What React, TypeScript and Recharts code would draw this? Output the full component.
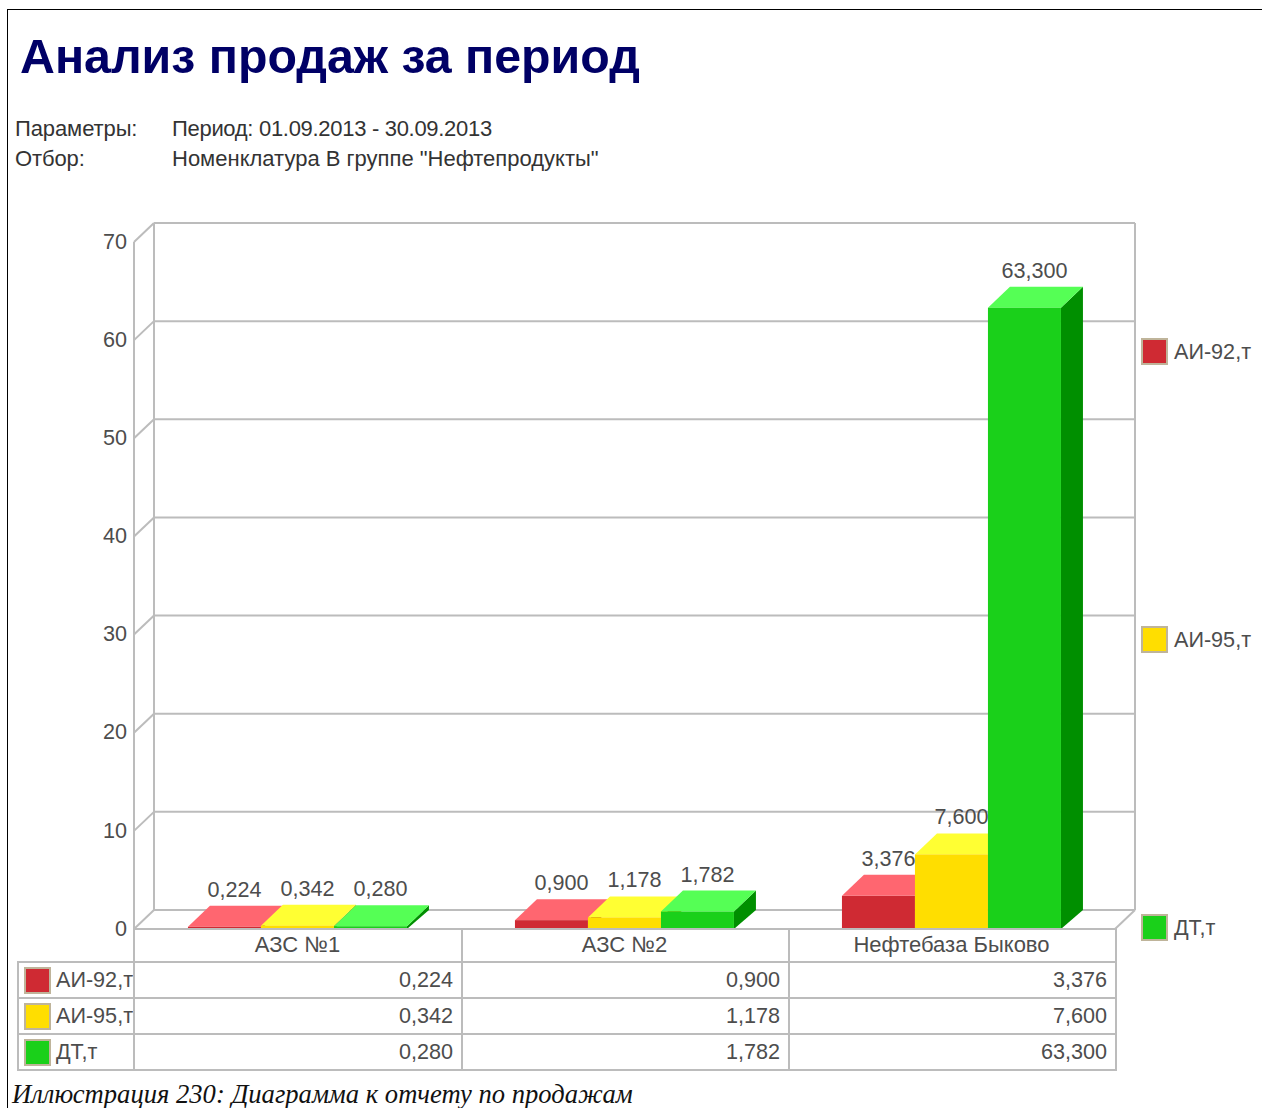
import React from 'react';
import { BarChart, Bar, XAxis, YAxis, CartesianGrid, Legend, LabelList } from 'recharts';

const categories = ['АЗС №1', 'АЗС №2', 'Нефтебаза Быково'];
const ai92 = [0.224, 0.9, 3.376];
const ai95 = [0.342, 1.178, 7.6];
const dt = [0.28, 1.782, 63.3];
const yTicks = [0, 10, 20, 30, 40, 50, 60, 70];

const seriesNames = ['АИ-92,т', 'АИ-95,т', 'ДТ,т'];
const seriesValues = [ai92, ai95, dt];
const fronts = ['#cf2a33', '#ffde00', '#1ad01a'];
const tops = ['#ff6670', '#ffff33', '#55ff55'];
const sides = ['#8f1a20', '#b09a00', '#008f00'];

const chartData = categories.map((name, i) => ({
  name,
  s0: ai92[i],
  s1: ai95[i],
  s2: dt[i],
}));

const FONT = '"Liberation Sans", Arial, sans-serif';
const TEXT = '#4d4d4d';
const LINE = '#bcbcbc';
const WALL_DX = 20;
const WALL_DY = 19;
const BAR_DX = 22;
const BAR_DY = 21;

const fmt = (v: number) => v.toFixed(3).replace('.', ',');

// fake 3d box, front face comes from the bar scale
const make3dBar = (s: number) => (props: any) => {
  const { x, y, width, height } = props;
  const r = x + width;
  const b = y + height;
  return (
    <g>
      <polygon fill={sides[s]} points={`${r},${y} ${r + BAR_DX},${y - BAR_DY} ${r + BAR_DX},${b - WALL_DY} ${r},${b}`} />
      <polygon fill={tops[s]} points={`${x},${y} ${x + BAR_DX},${y - BAR_DY} ${r + BAR_DX},${y - BAR_DY} ${r},${y}`} />
      <rect x={x} y={y} width={width} height={height} fill={fronts[s]} />
    </g>
  );
};

const barLabel = (props: any) => {
  const { x, y, width, value } = props;
  return (
    <text x={x + width / 2 + 10} y={y - 30} textAnchor="middle" fontFamily={FONT} fontSize={21.6} fill={TEXT}>
      {fmt(value)}
    </text>
  );
};

// back wall lines, pushed back from the front plane, with the little side wall diagonal
const wallLine = (props: any) => {
  const { x1, x2, y1, y, height } = props;
  const isTop = Math.abs(y1 - y) < 0.5;
  const isFloor = Math.abs(y1 - (y + height)) < 0.5;
  const common = { stroke: LINE, strokeWidth: 2, fill: 'none' };
  return (
    <g key={y1}>
      <line x1={x1 + WALL_DX} y1={y1 - WALL_DY} x2={x2 + WALL_DX} y2={y1 - WALL_DY} {...common} />
      <line x1={x1} y1={y1} x2={x1 + WALL_DX} y2={y1 - WALL_DY} {...common} />
      {isTop && <line x1={x1 + WALL_DX} y1={y1 - WALL_DY} x2={x1 + WALL_DX} y2={y1 - WALL_DY + height} {...common} />}
      {isTop && <line x1={x2 + WALL_DX} y1={y1 - WALL_DY} x2={x2 + WALL_DX} y2={y1 - WALL_DY + height} {...common} />}
      {isFloor && <line x1={x2} y1={y1} x2={x2 + WALL_DX} y2={y1 - WALL_DY} {...common} />}
    </g>
  );
};

const Swatch = ({ color }: { color: string }) => (
  <span
    style={{
      display: 'inline-block',
      boxSizing: 'border-box',
      width: 27,
      height: 27,
      background: color,
      border: '2px solid #bfb49a',
      flex: 'none',
    }}
  />
);

const legendContent = () => (
  <div style={{ height: 603, display: 'flex', flexDirection: 'column', justifyContent: 'space-between' }}>
    {seriesNames.map((n, i) => (
      <div key={n} style={{ display: 'flex', alignItems: 'center', gap: 6, fontFamily: FONT, fontSize: 21.6, color: TEXT }}>
        <Swatch color={fronts[i]} />
        <span>{n}</span>
      </div>
    ))}
  </div>
);

const abs = (left: number, top: number, extra: any = {}) => ({
  position: 'absolute',
  left,
  top,
  whiteSpace: 'nowrap',
  ...extra,
});

const cell: any = { border: `2px solid ${LINE}`, padding: 0, boxSizing: 'border-box' };

function DataTable() {
  return (
    <table
      style={{
        position: 'absolute',
        left: 17,
        top: 928,
        width: 1100,
        tableLayout: 'fixed',
        borderCollapse: 'collapse',
        fontFamily: FONT,
        fontSize: 21.6,
        color: TEXT,
      }}
    >
      <colgroup>
        <col style={{ width: 116 }} />
        <col style={{ width: 328 }} />
        <col style={{ width: 327 }} />
        <col style={{ width: 327 }} />
      </colgroup>
      <tbody>
        <tr style={{ height: 33 }}>
          <td />
          <td style={cell} />
          <td style={cell} />
          <td style={cell} />
        </tr>
        {seriesNames.map((n, s) => (
          <tr key={n} style={{ height: 36 }}>
            <td style={{ ...cell, overflow: 'hidden' }}>
              <div style={{ display: 'flex', alignItems: 'center', gap: 5, paddingLeft: 5, whiteSpace: 'nowrap' }}>
                <Swatch color={fronts[s]} />
                <span>{n}</span>
              </div>
            </td>
            {seriesValues[s].map((v, i) => (
              <td key={i} style={{ ...cell, textAlign: 'right', paddingRight: 8 }}>
                {fmt(v)}
              </td>
            ))}
          </tr>
        ))}
      </tbody>
    </table>
  );
}

export default function App() {
  return (
    <div style={{ position: 'absolute', left: 0, top: 0, width: 1262, height: 1108, background: '#fff', overflow: 'hidden' }}>
      <div style={{ position: 'absolute', left: 7, top: 9, width: 1254, height: 1098, borderTop: '1px solid #000', borderLeft: '1px solid #000' }} />
      <div style={abs(20, 28, { fontFamily: FONT, fontWeight: 700, fontSize: 48.3, color: '#000066' })}>Анализ продаж за период</div>
      <div style={abs(15, 116, { fontFamily: FONT, fontSize: 22, letterSpacing: -0.1, color: '#333' })}>Параметры:</div>
      <div style={abs(172, 116, { fontFamily: FONT, fontSize: 22, letterSpacing: -0.3, color: '#333' })}>Период: 01.09.2013 - 30.09.2013</div>
      <div style={abs(15, 146, { fontFamily: FONT, fontSize: 22, letterSpacing: -0.1, color: '#333' })}>Отбор:</div>
      <div style={abs(172, 146, { fontFamily: FONT, fontSize: 22, color: '#333' })}>Номенклатура В группе "Нефтепродукты"</div>

      <DataTable />

      <div style={{ position: 'absolute', left: 0, top: 0 }}>
        <BarChart
          width={1262}
          height={1108}
          data={chartData}
          barCategoryGap="16.5%"
          barGap={0}
          margin={{ top: 242, right: 27, bottom: 139, left: 74 }}
        >
          <CartesianGrid horizontal={wallLine} vertical={false} />
          <XAxis
            dataKey="name"
            interval={0}
            height={40}
            tickSize={0}
            tickMargin={7}
            axisLine={{ stroke: LINE, strokeWidth: 2 }}
            tick={{ fontFamily: FONT, fontSize: 22, fill: TEXT }}
          />
          <YAxis
            width={60}
            domain={[0, 70]}
            ticks={yTicks}
            interval={0}
            tickSize={0}
            tickMargin={7}
            axisLine={{ stroke: LINE, strokeWidth: 2 }}
            tick={{ fontFamily: FONT, fontSize: 21.6, fill: TEXT, dy: -1 }}
          />
          <Legend
            layout="vertical"
            align="right"
            verticalAlign="top"
            width={120}
            content={legendContent}
            wrapperStyle={{ left: 1141, top: 338, right: 'auto' }}
          />
          {seriesNames.map((n, s) => (
            <Bar key={n} dataKey={`s${s}`} name={n} fill={fronts[s]} shape={make3dBar(s)} isAnimationActive={false}>
              <LabelList dataKey={`s${s}`} content={barLabel} />
            </Bar>
          ))}
        </BarChart>
      </div>

      <div style={abs(12, 1081, { fontFamily: '"Liberation Serif", serif', fontStyle: 'italic', fontSize: 26.6, lineHeight: '26px', color: '#111' })}>
        Иллюстрация 230: Диаграмма к отчету по продажам
      </div>
    </div>
  );
}
